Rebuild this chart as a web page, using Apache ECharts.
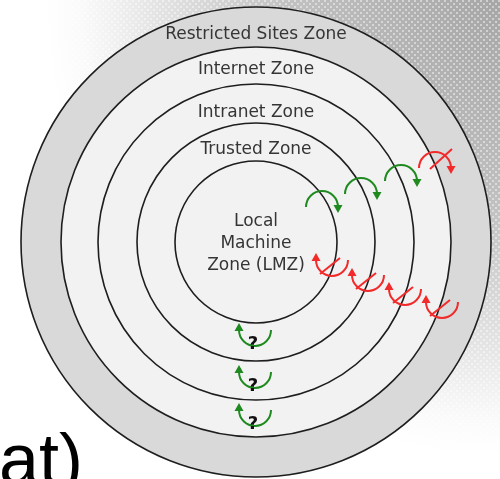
<!DOCTYPE html>
<html>
<head>
<meta charset="utf-8" />
<script src="https://cdn.jsdelivr.net/npm/echarts@6/dist/echarts.min.js"></script>
<style>
  html, body { margin: 0; padding: 0; background: #fff; }
  #chart { width: 500px; height: 479px; }
</style>
</head>
<body>
<div id="chart"></div>
<script>
// zones, outermost first (radius in diagram units)
const zoneNames = ["Restricted Sites Zone", "Internet Zone", "Intranet Zone", "Trusted Zone", "Local\nMachine\nZone (LMZ)"]
const zoneRadii = [235, 195, 158, 119, 81]
const zoneLabelY = [33, 68, 111, 148, 242]
const zoneCenter = [256, 242]

// crossing markers (arc centres)
const allowedOut = [[322, 207], [361, 194], [401, 181]]
const blockedOut = [[435, 168]]
const blockedIn = [[332, 260], [368, 275], [405, 289], [442, 302]]
const promptIn = [[255, 330], [255, 372], [255, 410]]

const GREEN = "#1f8a1f"
const RED = "#f22a2a"
const ARC_R = 16

const chart = echarts.init(document.getElementById("chart"), null, { renderer: "canvas" })

// halftone dots for the slide background
const dots = document.createElement("canvas")
dots.width = 6
dots.height = 6
const dctx = dots.getContext("2d")
dctx.fillStyle = "rgba(255,255,255,0.45)"
dctx.fillRect(0, 0, 2, 2)
dctx.fillRect(3, 3, 2, 2)

const ringItem = (params, api) => {
  const c = api.coord([api.value(0), api.value(1)])
  const r = api.size([api.value(2), 0])[0]
  return {
    type: "circle",
    shape: { cx: c[0], cy: c[1], r: r },
    style: {
      fill: params.dataIndex === 0 ? "#d9d9d9" : "#f2f2f2",
      stroke: "#1e1e1e",
      lineWidth: 1.6,
    },
  }
}

const labelItem = (params, api) => {
  const c = api.coord([api.value(0), api.value(1) + 2])
  return {
    type: "text",
    x: c[0],
    y: c[1],
    style: {
      text: zoneNames[params.dataIndex],
      font: '17px "DejaVu Sans"',
      fill: "#353535",
      align: "center",
      verticalAlign: "middle",
      lineHeight: 22,
    },
  }
}

// kind: "out" = arc over the top, arrow down on the right
//       "in"  = arc under, arrow up on the left
const markerItem = (kind, color, crossed, question) => (params, api) => {
  const cx = api.value(0)
  const cy = api.value(1)
  const p = (dx, dy) => api.coord([cx + dx, cy + dy])
  const c = p(0, 0)
  const r = api.size([ARC_R, 0])[0]
  const children = []
  if (kind === "out") {
    children.push({
      type: "arc",
      shape: { cx: c[0], cy: c[1], r: r, startAngle: Math.PI, endAngle: Math.PI * 2, clockwise: true },
      style: { stroke: color, lineWidth: 2, fill: null },
    })
    children.push({
      type: "polygon",
      shape: { points: [p(ARC_R - 4.5, -2), p(ARC_R + 4.5, -2), p(ARC_R, 6)] },
      style: { fill: color },
    })
    if (crossed) {
      children.push({
        type: "line",
        shape: { x1: p(-5, 1)[0], y1: p(-5, 1)[1], x2: p(17, -19)[0], y2: p(17, -19)[1] },
        style: { stroke: color, lineWidth: 2 },
      })
    }
  } else {
    children.push({
      type: "arc",
      shape: { cx: c[0], cy: c[1], r: r, startAngle: 0, endAngle: Math.PI, clockwise: true },
      style: { stroke: color, lineWidth: 2, fill: null },
    })
    children.push({
      type: "polygon",
      shape: { points: [p(-ARC_R - 4.5, 1), p(-ARC_R + 4.5, 1), p(-ARC_R, -7)] },
      style: { fill: color },
    })
    if (crossed) {
      children.push({
        type: "line",
        shape: { x1: p(-12, 14)[0], y1: p(-12, 14)[1], x2: p(8, -2)[0], y2: p(8, -2)[1] },
        style: { stroke: color, lineWidth: 2 },
      })
    }
    if (question) {
      const q = p(-2, 14)
      children.push({
        type: "text",
        x: q[0],
        y: q[1],
        style: {
          text: "?",
          font: 'bold 18px "DejaVu Sans"',
          fill: "#111",
          align: "center",
          verticalAlign: "middle",
        },
      })
    }
  }
  return { type: "group", children: children }
}

const option = {
  animation: false,
  backgroundColor: new echarts.graphic.RadialGradient(1, 0, 0.95, [
    { offset: 0, color: "#a6a6a6" },
    { offset: 0.45, color: "#c0c0c0" },
    { offset: 0.75, color: "#e3e3e3" },
    { offset: 0.92, color: "#fafafa" },
    { offset: 1, color: "#ffffff" },
  ]),
  grid: { left: 0, right: 0, top: 0, bottom: 0 },
  xAxis: { type: "value", min: 0, max: 500, show: false },
  yAxis: { type: "value", min: 0, max: 479, inverse: true, show: false },
  graphic: [
    {
      type: "rect",
      left: 0,
      top: 0,
      z: 0,
      silent: true,
      shape: { width: 500, height: 479 },
      style: { fill: { image: dots, repeat: "repeat" } },
    },
    {
      type: "text",
      left: -1,
      top: 428,
      z: 100,
      style: {
        text: "at)",
        font: '72px "Liberation Sans"',
        fill: "#000",
      },
    },
  ],
  series: [
    {
      type: "custom",
      clip: false,
      renderItem: ringItem,
      data: zoneRadii.map((r) => [zoneCenter[0], zoneCenter[1], r]),
      z: 1,
    },
    {
      type: "custom",
      clip: false,
      renderItem: labelItem,
      data: zoneLabelY.map((y) => [zoneCenter[0], y]),
      z: 3,
    },
    { type: "custom", clip: false, renderItem: markerItem("out", GREEN, false, false), data: allowedOut, z: 4 },
    { type: "custom", clip: false, renderItem: markerItem("out", RED, true, false), data: blockedOut, z: 4 },
    { type: "custom", clip: false, renderItem: markerItem("in", RED, true, false), data: blockedIn, z: 4 },
    { type: "custom", clip: false, renderItem: markerItem("in", GREEN, false, true), data: promptIn, z: 4 },
  ],
}

chart.setOption(option)
</script>
</body>
</html>
